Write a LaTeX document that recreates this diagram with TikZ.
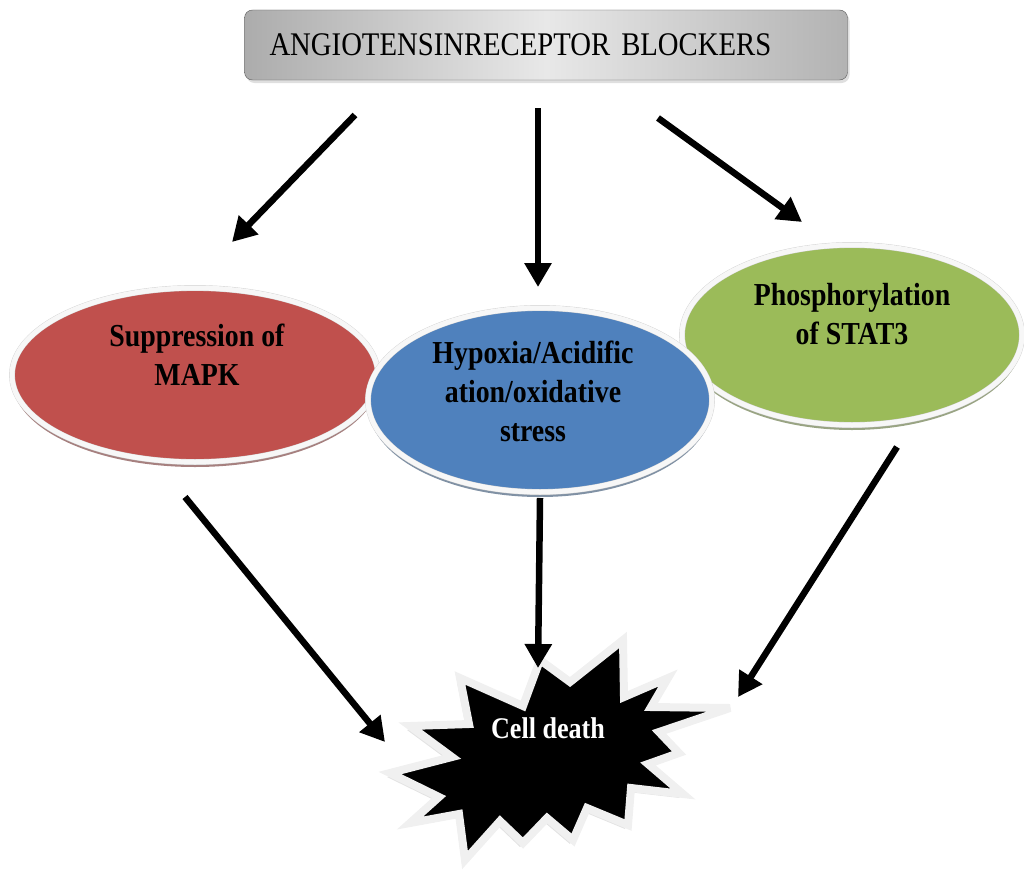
\documentclass[tikz,border=0pt]{standalone}
\usepackage{fontspec}
\setmainfont{Liberation Serif}[FakeStretch=0.87]
\usetikzlibrary{arrows.meta,shapes.geometric,shadows}

\definecolor{mapkred}{HTML}{C0504D}
\definecolor{hypoblue}{HTML}{4F81BD}
\definecolor{statgreen}{HTML}{9BBB59}

\begin{document}
\begin{tikzpicture}[x=1pt, y=-1pt,
  ell/.style={ellipse, draw=gray!35, double=gray!6, double distance=5pt, inner sep=0pt},
  lbl/.style={align=center, font=\fontsize{32}{39}\selectfont\bfseries},
  arr/.style={-{Triangle[length=24pt,width=26pt]}, line width=6.5pt}
]
\useasboundingbox (0,0) rectangle (1024,875);

% top box
\node[draw=gray!70!black, rounded corners=8pt, minimum width=603pt, minimum height=70pt,
  left color=gray!65, right color=gray!60, middle color=gray!18,
  drop shadow={shadow xshift=2pt, shadow yshift=-3pt, fill=gray!50},
  text width=553pt, align=left, font=\fontsize{33}{39}\selectfont] (arb) at (546,45)
  {ANGIOTENSINRECEPTOR BLOCKERS};

% effects
\node[ell, fill=mapkred, minimum width=366pt, minimum height=174pt,
  drop shadow={shadow xshift=0pt, shadow yshift=-5pt, fill=mapkred!55!black, opacity=.6}] (mapk) at (195,375) {};
\node[ell, fill=statgreen, minimum width=340pt, minimum height=180pt,
  drop shadow={shadow xshift=0pt, shadow yshift=-5pt, fill=statgreen!55!black, opacity=.6}] (stat) at (852,335) {};
\node[ell, fill=hypoblue, minimum width=344pt, minimum height=184pt,
  drop shadow={shadow xshift=0pt, shadow yshift=-5pt, fill=hypoblue!55!black, opacity=.6}] (hypo) at (540,400) {};
\node[lbl] (mapktxt) at (197,355) {Suppression of\\MAPK};
\node[lbl] (stattxt) at (852,314) {Phosphorylation\\of STAT3};
\node[lbl] (hypotxt) at (533,391) {Hypoxia/Acidific\\ation/oxidative\\stress};

% cell death burst
\fill[black, draw=gray!12, line width=8pt, miter limit=4,
  drop shadow={shadow xshift=-3pt, shadow yshift=-4pt, fill=gray!45}]
  (540,660) -- (570,682) -- (623,640) -- (624,697) -- (668,678) -- (651,707)
  -- (730,708) -- (659,732) -- (679,753) -- (648,764) -- (683,794) -- (631,788)
  -- (628,825) -- (587,808) -- (573,840) -- (547,818) -- (523,843) -- (500,821)
  -- (465,860) -- (459,814) -- (410,823) -- (439,797) -- (390,773) -- (452,757)
  -- (410,726) -- (469,724) -- (460,678) -- (523,706) -- cycle;
\node[text=white, font=\fontsize{30}{36}\selectfont\bfseries] (death) at (548,728) {Cell death};

% arrow ends
\coordinate (a1) at (355,115);
\coordinate (a2) at (538,108);
\coordinate (a3) at (658,118);
\coordinate (m1) at (232,242);
\coordinate (h1) at (538,287);
\coordinate (s1) at (802,222);
\coordinate (m2) at (185,497);
\coordinate (h2) at (540,498);
\coordinate (s2) at (897,447);
\coordinate (d1) at (385,742);
\coordinate (d2) at (538,668);
\coordinate (d3) at (738,697);

\draw[arr] (a1) -- (m1);
\draw[arr] (a2) -- (h1);
\draw[arr] (a3) -- (s1);
\draw[arr] (m2) -- (d1);
\draw[arr] (h2) -- (d2);
\draw[arr] (s2) -- (d3);
\end{tikzpicture}
\end{document}
